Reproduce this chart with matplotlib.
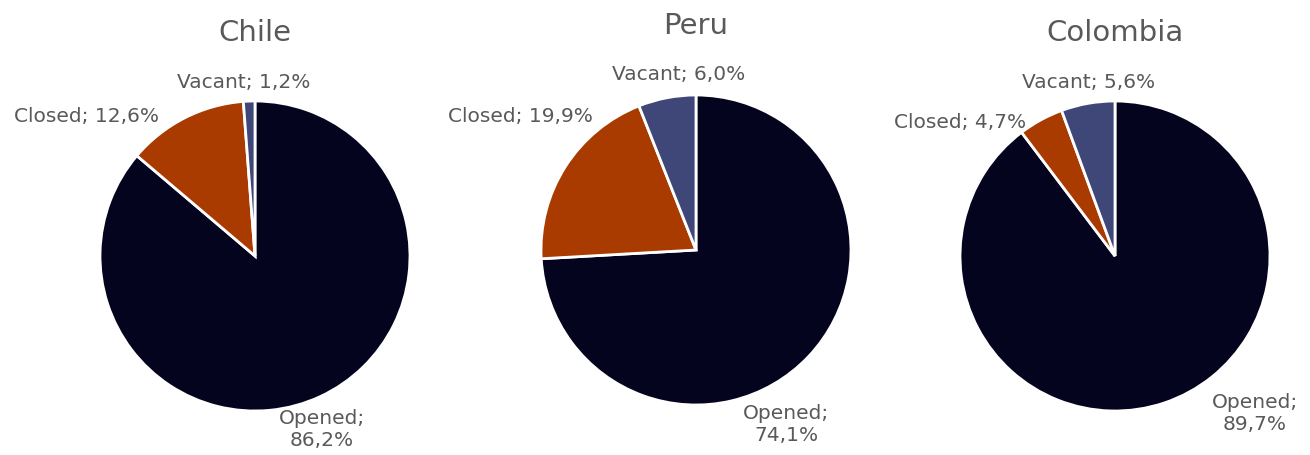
import matplotlib.pyplot as plt

# Data
countries = ['Chile', 'Peru', 'Colombia']
categories = ['Opened', 'Closed', 'Vacant']
chile = [86.2, 12.6, 1.2]
peru = [74.1, 19.9, 6.0]
colombia = [89.7, 4.7, 5.6]
values = [chile, peru, colombia]

colors = ['#05041f', '#a93a00', '#3f4779']
text_color = '#595959'

W, H = 1310, 456
fig = plt.figure(figsize=(W / 100, H / 100), dpi=100)

# pie centres / radius in pixels, title y
centres = [(255, 257), (696, 251), (1115, 257)]
radius = 155
title_y = [33, 26, 33]

# label positions (pixels) for Opened, Closed, Vacant
label_pos = [
    [(322, 430), (86, 117), (244, 82)],
    [(786, 425), (520, 117), (679, 75)],
    [(1255, 414), (960, 122), (1089, 82)],
]

for i, (name, vals) in enumerate(zip(countries, values)):
    cx, cy = centres[i]
    ax = fig.add_axes([(cx - radius) / W, (H - cy - radius) / H,
                       2 * radius / W, 2 * radius / H])
    ax.pie(vals, colors=colors, startangle=90, counterclock=False,
           wedgeprops=dict(edgecolor='white', linewidth=2))
    ax.set_xlim(-1, 1)
    ax.set_ylim(-1, 1)
    ax.set_aspect('auto')
    ax.axis('off')

    fig.text(cx / W, 1 - title_y[i] / H, name, ha='center', va='center',
             fontsize=21, color=text_color)

    for j, cat in enumerate(categories):
        v = f'{vals[j]:.1f}'.replace('.', ',') + '%'
        if cat == 'Opened':
            s = f'{cat};\n{v}'
        else:
            s = f'{cat}; {v}'
        x, y = label_pos[i][j]
        fig.text(x / W, 1 - y / H, s, ha='center', va='center',
                 fontsize=14.5, color=text_color, linespacing=1.2)

fig.savefig('out.png', dpi=100)
